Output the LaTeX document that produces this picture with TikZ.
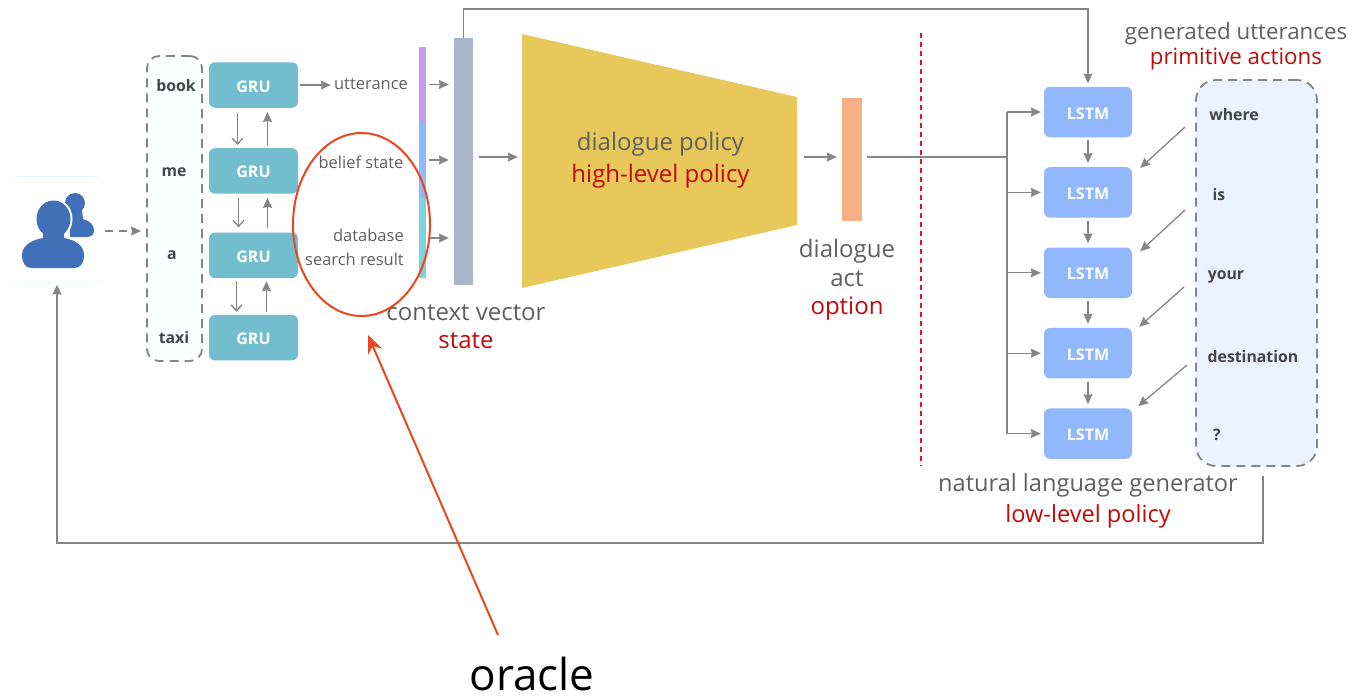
\documentclass[tikz,border=0pt]{standalone}
\usepackage{xcolor}
\usepackage{fontspec}
\setmainfont{Open Sans}
\usepackage{tikz}
\usetikzlibrary{positioning,arrows.meta,shapes.geometric}
\definecolor{linegray}{HTML}{858585}
\definecolor{textgray}{HTML}{5F5F5F}
\definecolor{wordgray}{HTML}{454545}
\definecolor{hierred}{HTML}{C00A0A}
\definecolor{splitred}{HTML}{E8102A}
\definecolor{grucol}{HTML}{72BECF}
\definecolor{lstmcol}{HTML}{91B7FD}
\definecolor{iconblue}{HTML}{4070B8}
\definecolor{oraclered}{HTML}{E8471F}
\definecolor{barpurple}{HTML}{C79AEB}
\definecolor{barteal}{HTML}{7AD3DE}
\definecolor{contextcol}{HTML}{A9B5C9}
\definecolor{policycol}{HTML}{E8C85A}
\definecolor{actcol}{HTML}{F5B183}
\definecolor{outfill}{HTML}{EBF2FF}
\definecolor{infill}{HTML}{FBFFFF}
\newcommand{\backhead}{(75,203) circle (10)}
\newcommand{\backbody}{(70,237) -- (70,210) -- (82,210) -- (83,219) .. controls (90,221) and (94,225) .. (94,230) .. controls (94,235) and (91,237) .. (88,237) -- cycle}
\newcommand{\fronthead}{(53.5,219) ellipse (17 and 18.5)}
\newcommand{\frontbody}{(43,230) -- (64,230) -- (64,238) .. controls (76,240) and (84,246) .. (84,255) .. controls (84,264) and (80,268) .. (74,268) -- (32,268) .. controls (26,268) and (22,264) .. (22,255) .. controls (22,246) and (31,240) .. (43,238) -- cycle}

\begin{document}
\begin{tikzpicture}
      [ x=1pt, y=-1pt,
        >={Stealth[length=10pt,width=9pt,inset=1pt]},
        flow/.style={color=linegray, line width=1.3pt},
        barb/.style={flow, -{Straight Barb[length=6pt,width=11pt,line width=1.3pt]}},
        cell/.style={rectangle, rounded corners=6pt, text=white, font=\fontsize{16}{19}\selectfont\bfseries,
                     minimum height=45.5pt, inner sep=0pt, text height=14pt, text depth=0pt},
        gru/.style={cell, fill=grucol, minimum width=89pt},
        lstm/.style={cell, fill=lstmcol, minimum width=88pt, minimum height=50.5pt},
        word/.style={text=wordgray, font=\fontsize{15.8}{18}\selectfont\bfseries, inner sep=0pt},
        small/.style={text=textgray, font=\fontsize{16.5}{24}\selectfont, inner sep=0pt},
        big/.style={text=textgray, font=\fontsize{24}{28.5}\selectfont, align=center, inner sep=0pt},
        wordbox/.style={draw=linegray, line width=1.8pt, dash pattern=on 9pt off 6pt, rounded corners=12pt},
        bar/.style={minimum width=7pt, inner sep=0pt}
      ]
      \useasboundingbox (0,0) rectangle (1363,697);
      \coordinate (topline)    at (0,9);
      \coordinate (bottomline) at (0,543);

      % user icon
      \node (user) [minimum width=86pt, minimum height=105pt, inner sep=0pt] at (57,229) {};
      \draw[cyan!8] (user.north west) -- (user.north east) (user.south west) -- (user.south east);
      \fill[iconblue] \backhead \backbody;
      \draw[white, line width=4pt] \fronthead \frontbody;
      \fill[iconblue] \fronthead \frontbody;

      % encoder
      \node[wordbox, minimum width=55pt, minimum height=305pt, fill=infill] (inbox) at (174.5,208.5) {};
      \node[word] (book) at (176,86)  {book};
      \node[word] (me)   at (174,172) {me};
      \node[word] (a)    at (172,255) {a};
      \node[word] (taxi) at (174,338) {taxi};

      \node[gru] (gru1) at (253.5,85)    {GRU};
      \node[gru] (gru2) [below=40pt of gru1] {GRU};
      \node[gru] (gru3) [below=38.5pt of gru2] {GRU};
      \node[gru] (gru4) [below=36.5pt of gru3] {GRU};

      \node[small] (utterance) at (371,84)  {utterance};
      \node[small] (belief)    at (361,162) {belief state};
      \node[small, align=right, anchor=east] (search) at (404,247) {database\\search result};

      % context vector
      \node[bar, fill=barpurple, minimum height=75pt] (barutter)  at (422.5,84.5) {};
      \node[bar, fill=lstmcol, minimum height=76pt]   (barbelief) at (422.5,160) {};
      \node[bar, fill=barteal, minimum height=80pt]   (bardb)     at (422.5,238) {};
      \node[fill=contextcol, minimum width=19pt, minimum height=247pt, inner sep=0pt] (context) at (463.5,161.5) {};
      \node[big] (contextlabel) at (466,326.5) {context vector\\\textcolor{hierred}{state}};

      % policy
      \fill[policycol] (522,34) -- (797,97) -- (797,225) -- (522,288) -- cycle;
      \node[big, minimum width=275pt, minimum height=254pt] (policy) at (660.5,160.5)
           {dialogue policy\\[3.5pt]\textcolor{hierred}{high-level policy}};
      \node[fill=actcol, minimum width=20pt, minimum height=123pt, inner sep=0pt] (act) at (852,159.5) {};
      \node[big] (actlabel) at (847,280) {dialogue\\act\\\textcolor{hierred}{option}};

      \draw[draw=splitred, line width=1.2pt, dash pattern=on 5pt off 4pt] (921,33) -- (921,466);

      % generator
      \node[lstm] (lstm1) at (1088,112) {LSTM};
      \node[lstm] (lstm2) [below=29.5pt of lstm1] {LSTM};
      \node[lstm] (lstm3) [below=29.5pt of lstm2] {LSTM};
      \node[lstm] (lstm4) [below=29.5pt of lstm3] {LSTM};
      \node[lstm] (lstm5) [below=29.5pt of lstm4] {LSTM};
      \coordinate (trunk) at (1007,157);

      \node[wordbox, minimum width=121pt, minimum height=386pt, fill=outfill, rounded corners=20pt] (outbox) at (1256.5,273) {};
      \node[word] (where) at (1234,115)  {where};
      \node[word] (is)    at (1219,195)  {is};
      \node[word] (your)  at (1226,277)  {your};
      \node[word] (destination) at (1253,357) {destination};
      \node[word] (qmark) at (1217,435)  {?};
      \coordinate (from1) at (1185,127);
      \coordinate (from2) at (1185,210);
      \coordinate (from3) at (1184,287);
      \coordinate (from4) at (1187,365);

      \node[big, font=\fontsize{22.3}{24.5}\selectfont] (outlabel) at (1236,46) {generated utterances\\\textcolor{hierred}{primitive actions}};
      \node[big, font=\fontsize{23.6}{28.5}\selectfont] (genlabel) at (1088,501) {natural language generator\\[2.5pt]\textcolor{hierred}{low-level policy}};

      % connectors
      \draw[flow, ->, dash pattern=on 8pt off 6pt] ([xshift=5pt,yshift=-2pt]user.east) -- ([xshift=-5pt,yshift=-22.5pt]inbox.west);
      \path[->, flow, shorten >=3pt, shorten <=2pt]
                (gru1.east) edge (gru1.east -| utterance.west);
      \path[->, flow]
                ([xshift=14pt,yshift=3pt]gru2.north) edge ([xshift=14pt,yshift=-4pt]gru1.south)
                ([xshift=14pt,yshift=4pt]gru3.north) edge ([xshift=14pt,yshift=-4pt]gru2.south)
                ([xshift=13pt,yshift=3pt]gru4.north) edge ([xshift=13pt,yshift=-3pt]gru3.south);
      \draw[barb] ([xshift=-16pt,yshift=-5pt]gru1.south) -- ([xshift=-16pt,yshift=3pt]gru2.north);
      \draw[barb] ([xshift=-15pt,yshift=-4pt]gru2.south) -- ([xshift=-15pt,yshift=5pt]gru3.north);
      \draw[barb] ([xshift=-17pt,yshift=-3pt]gru3.south) -- ([xshift=-17pt,yshift=3pt]gru4.north);

      \path[->, flow, shorten >=5pt, shorten <=3pt]
                (barutter.east)  edge (barutter.east -| context.west)
                (barbelief.east) edge (barbelief.east -| context.west)
                (bardb.east)     edge (bardb.east -| context.west);
      \path[->, flow, shorten >=5pt, shorten <=6pt]
                (context.east |- trunk) edge (policy.west |- trunk)
                (policy.east |- trunk)  edge (act.west |- trunk);
      \draw[flow, shorten <=5pt] (act.east |- trunk) -- (trunk);
      \draw[flow] (trunk |- lstm1.west) -- (trunk |- lstm5.west);
      \path[->, flow, shorten >=3pt]
                (trunk |- lstm1.west) edge (lstm1.west)
                (trunk |- lstm2.west) edge (lstm2.west)
                (trunk |- lstm3.west) edge (lstm3.west)
                (trunk |- lstm4.west) edge (lstm4.west)
                (trunk |- lstm5.west) edge (lstm5.west);
      \path[->, flow, shorten >=4pt, shorten <=3pt]
                (lstm1) edge (lstm2)
                (lstm2) edge (lstm3)
                (lstm3) edge (lstm4)
                (lstm4) edge (lstm5);
      \path[->, flow]
                (from1) edge ([xshift=8pt,yshift=-1pt]lstm2.north east)
                (from2) edge ([xshift=8pt,yshift=-4pt]lstm3.north east)
                (from3) edge ([xshift=7pt,yshift=1pt]lstm4.north east)
                (from4) edge ([xshift=6pt,yshift=2pt]lstm5.north east);

      \draw[->, flow] (context.north) -- (context.north |- topline) -- (lstm1.north |- topline) -- ([yshift=3pt]lstm1.north);
      \draw[->, flow, shorten <=9pt, shorten >=3pt] ([xshift=6.5pt]outbox.south)
            -- ([xshift=6.5pt]outbox.south |- bottomline) -- (user.south |- bottomline) -- (user.south);

      % oracle
      \node[draw=oraclered, line width=2pt, ellipse, minimum width=137pt, minimum height=183pt, inner sep=0pt] (ring) at (361.5,224.5) {};
      \node[text=black, font=\fontsize{44}{50}\selectfont, inner sep=0pt] (oracle) at (532,674) {oracle};
      \coordinate (ringtip) at (368,335);
      \coordinate (oracletail) at (498,635);
      \draw[-{Stealth[length=18pt,width=15pt]}, draw=oraclered, fill=oraclered, line width=2pt] (oracletail) -- (ringtip);
    \end{tikzpicture}
\end{document}
